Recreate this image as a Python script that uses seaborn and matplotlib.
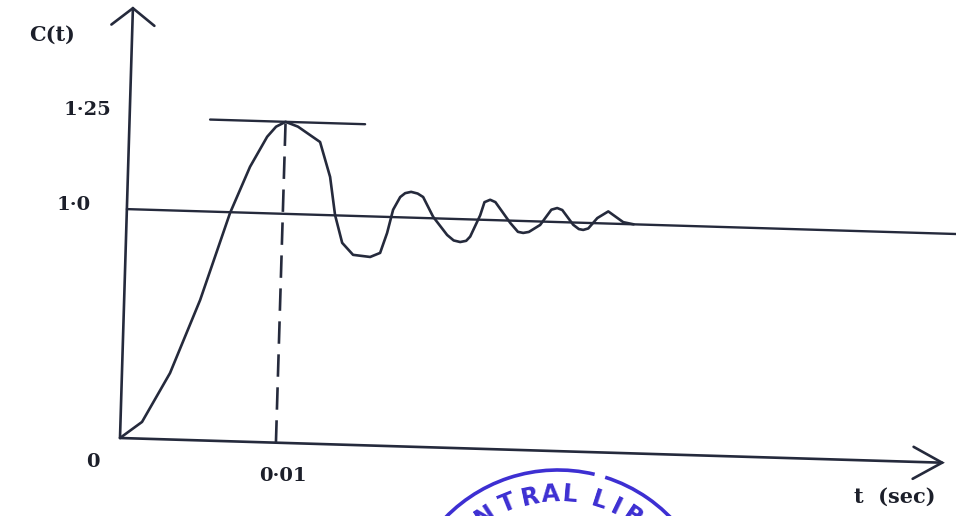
import numpy as np
import seaborn as sns
import matplotlib
import matplotlib.pyplot as plt
from matplotlib.transforms import Affine2D, IdentityTransform
from matplotlib.patches import Arc

# step response
t_sec = [0, 0.00138, 0.00308, 0.00487, 0.00662, 0.00781, 0.00885, 0.0094, 0.0100,
         0.0108, 0.01225, 0.01296, 0.01335, 0.01386, 0.01458, 0.01568, 0.01631,
         0.01672, 0.01706, 0.01749, 0.0178, 0.01818, 0.0186, 0.01896, 0.01964,
         0.02057, 0.0210, 0.02142, 0.0218, 0.02205, 0.02265, 0.0229, 0.02326,
         0.0236, 0.02459, 0.0251, 0.02544, 0.0258, 0.02651, 0.0272, 0.02757,
         0.0279, 0.02863, 0.0290, 0.02928, 0.0296, 0.03016, 0.03085, 0.03183,
         0.0325]
c_t = [0, 0.073, 0.290, 0.613, 0.997, 1.125, 1.208, 1.236, 1.25,
       1.238, 1.198, 1.104, 1.001, 0.881, 0.830, 0.823, 0.842,
       0.930, 1.020, 1.055, 1.066, 1.070, 1.066, 1.057, 1.004,
       0.929, 0.906, 0.900, 0.906, 0.925, 1.012, 1.048, 1.055,
       1.049, 0.990, 0.952, 0.948, 0.953, 0.985, 1.033, 1.038,
       1.033, 0.990, 0.972, 0.969, 0.976, 1.014, 1.033, 1.005,
       1.0]

peak_time = 0.01
peak_value = 1.25
final_value = 1.0
tick_labels = {0: "0", 1.0: "1·0", 1.25: "1·25"}
time_label = "0·01"

INK = "#252a3c"
TEXT = "#1c1f2a"

# the hand-drawn axis is not linear: 1.0 sits at 229 px, 1.25 at 321 px
def fwd(c):
    c = np.asarray(c, dtype=float)
    return np.where(c <= 1, c * 229.0, 229.0 + (c - 1) * 368.0)

def inv(v):
    v = np.asarray(v, dtype=float)
    return np.where(v <= 229, v / 229.0, 1 + (v - 229.0) / 368.0)

sns.set_theme(style="white")
plt.rcParams["font.family"] = ["DejaVu Serif", "DejaVu Sans"]

fig = plt.figure(figsize=(9.56, 5.16), dpi=100)
ax = fig.add_axes([0, 0, 1, 1])
ax.set_yscale("function", functions=(fwd, inv))
ax.set_xlim(-120 / 15600, 836 / 15600)
ax.set_ylim(float(inv(-78)), float(inv(438)))
ax.set_autoscale_on(False)
ax.axis("off")

# scan is turned slightly clockwise
ox, oy = ax.transData.transform((0, 0))
rot = Affine2D().rotate_deg_around(ox, oy, -1.72)
tr = ax.transData + rot

sns.lineplot(x=t_sec, y=c_t, ax=ax, color=INK, lw=1.9, sort=False)
ax.lines[-1].set_transform(tr)
ax.lines[-1].set_solid_joinstyle("round")

y_top = float(inv(430))
x_tip = 822.5 / 15600
ax.plot([0, 0], [0, y_top], color=INK, lw=1.9, transform=tr)
ax.plot([0, x_tip], [0, 0], color=INK, lw=1.9, transform=tr)
ax.plot([0, 0.0536], [final_value, final_value], color=INK, lw=1.7, transform=tr)
ax.plot([0.00516, 0.0151], [peak_value, peak_value], color=INK, lw=1.7, transform=tr)
ax.plot([peak_time, peak_time], [0, peak_value], color=INK, lw=1.9,
        dashes=(8.5, 4), transform=tr)

# open arrow heads
tx, ty = ax.transData.transform((0, y_top))
ax.plot([tx - 21, tx, tx + 22], [ty - 17, ty, ty - 17], color=INK, lw=1.9,
        transform=rot, solid_joinstyle="miter")
tx, ty = ax.transData.transform((x_tip, 0))
ax.plot([tx - 29, tx, tx - 29], [ty + 15, ty, ty - 17], color=INK, lw=1.9,
        transform=rot, solid_joinstyle="miter")

for val, lab in tick_labels.items():
    off = {0: (-27, -24), 1.0: (-46, 4), 1.25: (-33, 7)}[val]
    ax.annotate(lab, (0, val), xytext=off, textcoords="offset pixels",
                ha="center", va="center", fontsize=14, color=TEXT, weight="bold")
ax.annotate(time_label, (peak_time, 0), xytext=(7, -38), textcoords="offset pixels",
            ha="center", va="center", fontsize=14, color=TEXT, weight="bold")

fig.text(52 / 956, 1 - 35 / 516, "C(t)", ha="center", va="center",
         fontsize=15, color=TEXT, weight="bold")
fig.text(895 / 956, 1 - 497 / 516, "t  (sec)", ha="center", va="center",
         fontsize=15, color=TEXT, weight="bold")

# library stamp at the bottom edge
STAMP = "#3d2fd2"
cx, cy, r = 558, -111, 157
for a1, a2 in [(76.5, 140), (38, 72.5)]:
    fig.add_artist(Arc((cx, cy), 2 * r, 2 * r, theta1=a1, theta2=a2,
                       transform=IdentityTransform(), color=STAMP, lw=2.6))
stamp_letters = list("NTRALLIB")
stamp_angles = [123, 112, 102, 93, 85, 72, 64, 56]
for ch, ang in zip(stamp_letters, stamp_angles):
    rad = np.deg2rad(ang)
    fig.text(cx + 133 * np.cos(rad), cy + 133 * np.sin(rad), ch,
             transform=IdentityTransform(), rotation=ang - 90,
             ha="center", va="center", fontsize=17, color=STAMP,
             family="DejaVu Sans", weight="bold")

fig.savefig("out.png", dpi=100)
